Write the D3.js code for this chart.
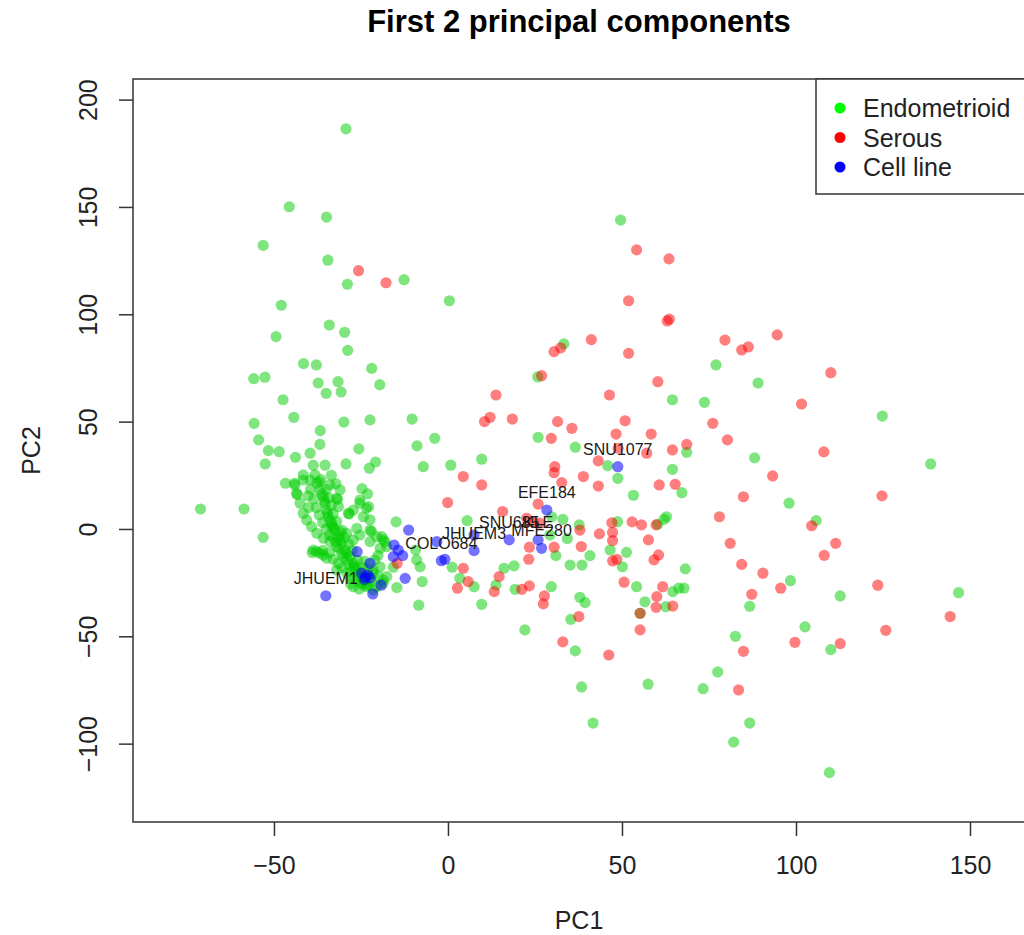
<!DOCTYPE html>
<html>
<head>
<meta charset="utf-8">
<script src="https://cdn.jsdelivr.net/npm/d3@7"></script>
<style>
  body { margin: 0; background: #fff; }
  svg { display: block; font-family: "Liberation Sans", Arial, sans-serif; }
</style>
</head>
<body>
<div id="chart"></div>
<script>
// PC1 / PC2 scores
const endometrioid = [
  [-29.3,186.4],[-45.6,150.1],[-34.9,145.3],[-53.1,132.1],[-34.5,125.2],[-12.6,116.1],[-28.9,114.0],[0.4,106.3],
  [-47.9,104.2],[-34.1,95.0],[-29.7,91.6],[-49.4,89.6],[-28.8,83.2],[-41.5,77.0],[-37.8,76.4],[-21.9,74.8],
  [-55.8,70.0],[-52.6,70.7],[-37.3,68.0],[-31.6,68.6],[-19.6,67.2],[-35.0,63.2],[-30.7,63.8],[-47.4,60.2],
  [-44.3,52.0],[-55.7,49.2],[-29.9,49.8],[-22.4,50.8],[-10.3,51.2],[-36.7,45.8],[-3.8,42.2],[-54.4,41.5],
  [-36.8,39.4],[-8.9,38.7],[-51.6,36.5],[-48.5,36.0],[-25.6,37.3],[-43.8,33.4],[-39.6,35.3],[-52.5,30.3],
  [-38.7,29.7],[-35.3,29.7],[-29.3,30.3],[-22.6,28.3],[-20.8,31.2],[-7.1,29.0],[0.8,29.7],[-33.5,25.0],
  [-39.6,22.8],[-37.0,22.0],[-32.2,21.1],[-46.7,21.3],[-44.1,21.3],[-24.7,18.8],[-23.1,16.3],[-43.3,16.0],
  [-40.2,15.4],[-31.7,13.8],[-25.3,13.5],[-22.8,10.4],[-71.1,9.3],[-58.6,9.3],[-28.4,7.0],[-22.4,4.3],
  [-14.9,3.3],[-22.0,-1.1],[-53.1,-3.9],[-19.0,-3.6],[-9.0,-14.4],[-8.0,-17.6],[-7.4,-24.5],[-14.7,-27.3],
  [-8.4,-35.5],[-18.6,-5.1],[-20.1,-12.3],[-9.3,-9.8],[-17.6,-22.2],[-18.6,-25.3],[-21.5,-19.1],[-18.1,-5.9],
  [-15.7,-17.8],
  // dense band
  [-37.7,21.3],[-36.8,18.2],[-35.8,15.0],[-35.3,11.9],[-34.9,8.8],[-34.4,5.7],[-33.4,2.6],[-32.5,-0.5],
  [-31.5,-3.6],[-30.5,-6.7],[-29.6,-9.8],[-28.2,-12.9],[-27.2,-16.0],[-26.2,-19.1],[-24.8,-22.2],[-23.9,-24.5],
  [-36.2,16.5],[-35.5,13.2],[-34.6,7.2],[-33.9,4.0],[-33.0,1.0],[-31.0,-5.0],[-29.0,-11.5],[-26.7,-17.5],
  [-25.5,-20.5],[-23.0,-26.0],[-43.5,16.6],[-42.5,12.0],[-41.6,7.3],[-40.6,4.2],[-39.2,1.1],[-37.7,-2.0],
  [-35.8,-4.3],[-33.9,-5.9],[-32.0,-8.2],[-30.5,-11.3],[-29.1,-14.4],[-27.2,-17.6],[-38.7,-9.8],[-36.8,-11.3],
  [-34.9,-13.6],[-33.0,-14.1],[-37.8,-10.5],[-35.8,-12.2],[-32.0,-19.1],[-29.1,-20.6],[-26.2,-23.8],[-27.2,-26.9],
  [-24.3,-26.1],[-28.2,-23.0],[-23.4,-26.9],[-20.5,-26.9],[-18.6,-23.8],[-21.5,-20.6],[-19.5,-17.6],[-21.0,-14.4],
  [-25.3,12.0],[-23.4,9.6],[-27.2,8.8],[-24.3,5.7],[-28.6,7.3],[-31.5,10.4],[-32.0,14.3],[-31.0,18.2],
  [-33.9,20.5],[-22.4,-0.5],[-20.5,-3.6],[-17.6,-8.2],[-19.5,-9.0],[-22.4,-5.9],[-25.3,-2.8],[-26.2,0.3],
  [-29.1,-2.0],[-27.2,-5.1],[-30.5,-0.5],[-33.4,1.1],[-41.6,25.2],[-38.2,25.2],[-44.0,20.5],[-41.6,22.8],
  [-39.5,18.5],[-38.5,14.0],[-37.8,10.0],[-37.0,6.5],[-36.0,3.0],[-35.0,0.0],[-34.0,-2.8],[-33.0,-4.0],
  [-32.2,-6.2],[-31.3,-9.0],[-30.0,-13.0],[-28.5,-16.5],[-27.8,-20.0],[-25.8,-22.0],[-25.0,-25.0],[-22.0,-24.0],
  [-24.5,-18.0],[-26.0,-14.5],[-27.5,-10.0],[-28.5,-7.0],[-29.8,-4.0],[-31.0,-1.5],[-32.0,3.5],[-33.0,7.0],
  [-33.5,11.0],[-34.2,14.5],[-35.0,18.5],[-36.5,23.0],[-40.0,10.0],[-39.0,-11.0],[-36.0,-10.0],[-34.0,-11.0],
  [-31.5,-16.0],[-30.5,-18.0],[-28.0,-25.5],[-25.5,-28.0],[-21.5,-28.5],[-20.0,-22.0],[-23.0,-18.5],[-24.0,-15.0],
  // right side
  [49.6,143.9],[33.3,86.2],[77.0,76.4],[25.8,70.8],[64.5,60.2],[73.7,59.0],[25.9,42.7],[36.6,38.1],
  [68.6,35.7],[9.7,32.5],[45.9,29.5],[64.5,27.8],[48.8,23.6],[89.1,68.0],[124.8,52.6],[88.1,33.1],
  [138.7,30.3],[98.0,12.0],[67.2,16.9],[105.8,3.9],[68.2,-18.6],[98.4,-24.1],[67.8,-27.6],[112.7,-31.2],
  [146.7,-29.7],[86.7,-36.0],[102.6,-45.6],[82.6,-50.0],[110.0,-56.2],[77.5,-66.6],[73.3,-74.4],[86.7,-90.4],
  [82.1,-99.3],[109.6,-113.5],[53.3,15.7],[5.5,3.9],[29.8,5.7],[33.0,4.5],[37.7,1.9],[29.3,-2.8],
  [34.3,-4.5],[31.0,-12.4],[40.8,-12.4],[48.7,3.4],[62.1,4.5],[62.8,5.7],[46.6,-9.8],[51.3,-10.9],
  [50.1,-17.6],[54.2,-26.9],[64.6,-29.2],[66.3,-27.6],[62.6,-36.2],[56.6,-33.9],[55.2,-39.3],[38.5,-16.8],
  [35.1,-16.8],[29.7,-26.9],[19.3,-28.1],[37.9,-31.8],[39.4,-34.3],[35.3,-42.1],[22.1,-47.0],[36.6,-56.8],
  [1.2,-17.8],[3.4,-23.0],[7.5,-26.9],[9.7,-35.1],[16.1,-18.3],[19.0,-17.2],[13.8,-26.1],[60.3,2.2],
  [38.4,-73.6],[57.5,-72.3],[41.7,-90.4]
];

const serous = [
  [-25.7,120.3],[-17.8,114.7],[54.2,130.0],[63.5,125.8],[51.9,106.3],[63.0,96.9],[63.6,97.7],[79.6,88.0],
  [30.5,82.6],[32.4,84.4],[41.2,88.2],[51.9,81.8],[26.9,71.4],[60.3,68.6],[13.8,62.4],[46.4,62.4],
  [76.1,49.2],[10.5,50.0],[12.1,52.0],[18.5,51.2],[31.5,50.0],[35.6,46.9],[50.9,50.4],[48.3,44.2],
  [58.4,44.2],[80.3,41.5],[29.7,42.2],[48.9,37.6],[57.1,35.3],[64.5,36.8],[68.6,39.4],[43.2,31.7],
  [30.7,29.0],[30.5,26.2],[4.4,24.4],[38.9,24.4],[84.4,83.4],[86.3,84.8],[94.6,90.4],[110.0,72.8],
  [101.6,58.2],[108.0,35.9],[93.3,24.7],[84.9,15.0],[124.7,15.4],[78.0,5.7],[104.5,1.5],[81.1,-6.7],
  [111.4,-6.7],[108.1,-12.3],[84.4,-16.5],[90.5,-20.6],[95.6,-27.6],[87.3,-30.4],[123.5,-26.2],[144.3,-40.8],
  [125.8,-47.2],[99.7,-52.8],[112.7,-53.4],[84.9,-57.0],[83.5,-75.0],[9.7,20.5],[32.7,21.6],[43.2,20.0],
  [60.7,20.5],[65.3,20.8],[-0.1,12.3],[25.9,11.6],[15.7,8.1],[22.6,5.0],[24.5,3.4],[26.4,2.7],
  [37.9,-0.5],[23.4,-8.5],[30.5,-8.5],[38.3,-8.2],[23.2,-14.1],[43.5,-2.3],[47.3,-1.6],[47.1,2.9],
  [52.9,3.3],[55.6,1.9],[59.8,1.9],[47.3,-5.4],[57.6,-5.1],[47.3,-14.9],[48.5,-14.1],[59.2,-14.4],
  [60.5,-12.1],[50.6,-24.8],[61.7,-26.9],[60.0,-31.5],[59.8,-36.5],[64.6,-35.9],[55.2,-39.3],[55.2,-47.0],
  [27.7,-31.2],[27.4,-34.9],[23.4,-26.5],[21.2,-28.1],[37.6,-40.8],[33.0,-52.6],[46.2,-58.7],[4.4,-18.3],
  [5.8,-24.5],[2.7,-27.6],[13.3,-29.2],[14.7,-22.2],[-14.6,-16.0]
];

const cellLine = [
  [-11.3,-0.5],[-15.5,-7.5],[-14.3,-9.8],[-15.7,-12.9],[-13.0,-12.4],[-1.9,-14.8],[-0.9,-14.1],[-12.3,-23.0],
  [-26.1,-10.6],[-22.4,-16.0],[-23.8,-22.4],[-22.4,-22.8],[-24.8,-20.6],[-23.0,-21.5],[-24.0,-23.5],[-19.2,-26.2],
  [-21.6,-30.3],[-35.1,-31.1],[48.8,29.0],[28.4,8.8],[25.9,-5.1],[26.9,-9.0],[17.6,-5.1],[7.5,-2.8],
  [7.5,-10.1],[-3.2,-5.9]
];

// labelled cell lines: name, PC1, PC2
const cellLabels = [
  ["SNU1077", 48.8, 29.0], ["EFE184", 28.4, 8.8], ["SNU685", 17.6, -5.1], ["KLE", 25.9, -5.1],
  ["MFE280", 26.9, -9.0], ["JHUEM3", 7.5, -10.1], ["COLO684", -1.9, -14.8], ["JHUEM1", -35.1, -31.1]
];

const legendLabels = ["Endometrioid", "Serous", "Cell line"];
const legendColors = ["#00ff00", "#ff0000", "#0000ff"];
const xTicks = [-50, 0, 50, 100, 150];
const yTicks = [-100, -50, 0, 50, 100, 150, 200];

const width = 1024, height = 935;
const marginLeft = 133, plotRight = 1025, marginTop = 79, plotBottom = 822;

const svg = d3.select("#chart").append("svg")
  .attr("width", width)
  .attr("height", height);

const x = d3.scaleLinear().domain([-90.5, 165.8]).range([marginLeft, plotRight]);
const y = d3.scaleLinear().domain([-136.5, 209.6]).range([plotBottom, marginTop]);

// title
svg.append("text")
  .attr("x", (marginLeft + plotRight) / 2)
  .attr("y", 32)
  .attr("text-anchor", "middle")
  .style("font-size", "31px")
  .style("font-weight", "bold")
  .text("First 2 principal components");

// points
const series = [
  { data: endometrioid, color: "rgba(0,205,0,0.5)" },
  { data: serous, color: "rgba(255,0,0,0.5)" },
  { data: cellLine, color: "rgba(0,0,255,0.55)" }
];
series.forEach(s => {
  svg.append("g")
    .selectAll("circle")
    .data(s.data)
    .join("circle")
    .attr("cx", d => x(d[0]))
    .attr("cy", d => y(d[1]))
    .attr("r", 5.6)
    .attr("fill", s.color);
});

// cell line labels
svg.append("g")
  .selectAll("text")
  .data(cellLabels)
  .join("text")
  .attr("x", d => x(d[1]))
  .attr("y", d => y(d[2]) - 12)
  .attr("text-anchor", "middle")
  .style("font-size", "16px")
  .attr("fill", "#1a1a1a")
  .text(d => d[0]);

// plot box
svg.append("rect")
  .attr("x", marginLeft).attr("y", marginTop)
  .attr("width", plotRight - marginLeft).attr("height", plotBottom - marginTop)
  .attr("fill", "none")
  .attr("stroke", "#333")
  .attr("stroke-width", 1.5);

// x axis
const xAxis = svg.append("g")
  .attr("transform", `translate(0,${plotBottom})`)
  .call(d3.axisBottom(x).tickValues(xTicks).tickSize(14).tickPadding(20));
xAxis.select(".domain").remove();
xAxis.selectAll(".tick line").attr("stroke", "#333").attr("stroke-width", 1.5);
xAxis.selectAll(".tick text")
  .attr("fill", "#222")
  .style("font-size", "25px")
  .style("font-family", "'Liberation Sans', Arial, sans-serif");

// y axis (labels rotated as in base R)
const yAxis = svg.append("g")
  .attr("transform", `translate(${marginLeft},0)`)
  .call(d3.axisLeft(y).tickValues(yTicks).tickSize(14));
yAxis.select(".domain").remove();
yAxis.selectAll(".tick line").attr("stroke", "#333").attr("stroke-width", 1.5);
yAxis.selectAll(".tick text")
  .attr("x", null).attr("dy", null)
  .attr("text-anchor", "middle")
  .attr("transform", `translate(-36,0) rotate(-90)`)
  .attr("fill", "#222")
  .style("font-size", "25px")
  .style("font-family", "'Liberation Sans', Arial, sans-serif");

// axis titles
svg.append("text")
  .attr("x", (marginLeft + plotRight) / 2)
  .attr("y", 929)
  .attr("text-anchor", "middle")
  .attr("fill", "#222")
  .style("font-size", "25px")
  .text("PC1");

svg.append("text")
  .attr("transform", `translate(40,${(marginTop + plotBottom) / 2}) rotate(-90)`)
  .attr("text-anchor", "middle")
  .attr("fill", "#222")
  .style("font-size", "25px")
  .text("PC2");

// legend
const legend = svg.append("g").attr("transform", `translate(816,${marginTop})`);
legend.append("rect")
  .attr("width", 220).attr("height", 115)
  .attr("fill", "#fff")
  .attr("stroke", "#333")
  .attr("stroke-width", 1.5);
legendLabels.forEach((lab, i) => {
  legend.append("circle")
    .attr("cx", 24).attr("cy", 29 + i * 29.5)
    .attr("r", 5.5)
    .attr("fill", legendColors[i]);
  legend.append("text")
    .attr("x", 47).attr("y", 29 + i * 29.5 + 9)
    .attr("fill", "#222")
    .style("font-size", "25px")
    .text(lab);
});
</script>
</body>
</html>
